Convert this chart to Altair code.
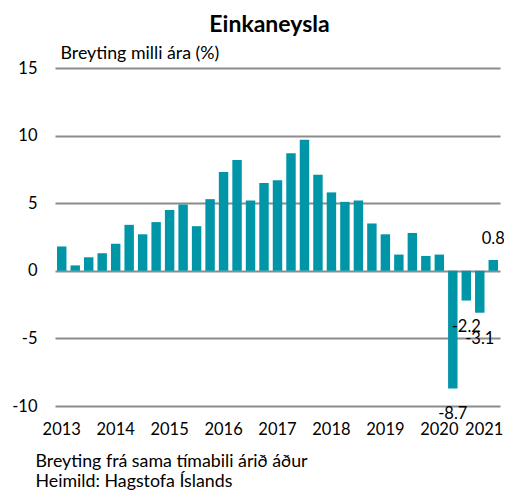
import altair as alt
import pandas as pd

years = [str(y) for y in range(2013, 2022)]
quarters = [f"{y}Q{q}" for y in range(2013, 2021) for q in range(1, 5)] + ["2021Q1"]
values = [1.8, 0.4, 1.0, 1.3, 2.0, 3.4, 2.7, 3.6, 4.5, 4.9, 3.3, 5.3, 7.3, 8.2, 5.2, 6.5,
          6.7, 8.7, 9.7, 7.1, 5.8, 5.1, 5.2, 3.5, 2.7, 1.2, 2.8, 1.1, 1.2, -8.7, -2.2, -3.1, 0.8]
labelled = ["2020Q2", "2020Q3", "2020Q4", "2021Q1"]

df = pd.DataFrame({"q": quarters, "v": values})
df["lab"] = [f"{v:.1f}" if q in labelled else "" for q, v in zip(quarters, values)]
ydf = pd.DataFrame({"q": [f"{y}Q1" for y in years], "year": years})

FONT = "Lato"
FS = 16.5   # digits
TS = 17.8   # words
base = alt.Chart(df)

xscale = alt.Scale(paddingInner=0.3, paddingOuter=0.15, domain=quarters)
x = alt.X("q:O", sort=quarters, scale=xscale,
          axis=alt.Axis(labels=False, ticks=False, domain=False,
                        title=["Breyting frá sama tímabili árið áður", "Heimild: Hagstofa Íslands"],
                        titleFont=FONT, titleFontSize=TS, titleFontWeight="normal", titleColor="#000",
                        titleAlign="left", titleAnchor="start", titleX=-20, titleY=55,
                        titleLineHeight=20, titleBaseline="middle"))
y = alt.Y("v:Q", scale=alt.Scale(domain=[-10, 15], nice=False),
          axis=alt.Axis(values=[-10, -5, 0, 5, 10, 15], ticks=False, domain=False,
                        labelExpr="toString(datum.value)",
                        gridColor="#8c8c8c", gridWidth=2, labelFontSize=FS, labelFont=FONT,
                        labelColor="#000", labelPadding=18,
                        title="Breyting milli ára (%)", titleAngle=0, titleAlign="left",
                        titleBaseline="bottom", titleX=5, titleY=-6, titleFont=FONT,
                        titleFontSize=TS, titleFontWeight="normal", titleColor="#000"))

bars = base.mark_bar(color="#0096A8").encode(x=x, y=y)
pos = base.transform_filter("datum.lab != '' && datum.v > 0").mark_text(
    dy=-21, fontSize=FS, font=FONT, color="#000").encode(x=x, y=y, text="lab:N")
neg = base.transform_filter("datum.lab != '' && datum.v < 0").mark_text(
    dy=26, fontSize=FS, font=FONT, color="#000").encode(x=x, y=y, text="lab:N")

ybase = alt.Chart(ydf)
xl = alt.X("q:O", sort=quarters, scale=xscale)
yrs = ybase.transform_filter("datum.year != '2021'").mark_text(
    fontSize=FS, font=FONT, color="#000", baseline="top").encode(
    x=xl, y=alt.value(354), text="year:N")
yr_last = ybase.transform_filter("datum.year == '2021'").mark_text(
    fontSize=FS, font=FONT, color="#000", baseline="top", dx=-9).encode(
    x=xl, y=alt.value(354), text="year:N")

chart = alt.layer(bars, pos, neg, yrs, yr_last).properties(
    width=445, height=338,
    title=alt.TitleParams("Einkaneysla", font=FONT, fontSize=23, fontWeight="bold",
                          color="#000", anchor="middle", dx=-8, offset=7),
    autosize=alt.AutoSizeParams(type="none"),
    padding={"left": 47, "top": 60, "right": 4, "bottom": 84},
).configure_view(stroke=None)

chart.save("out.html", embed_options={"renderer": "svg", "actions": False})
